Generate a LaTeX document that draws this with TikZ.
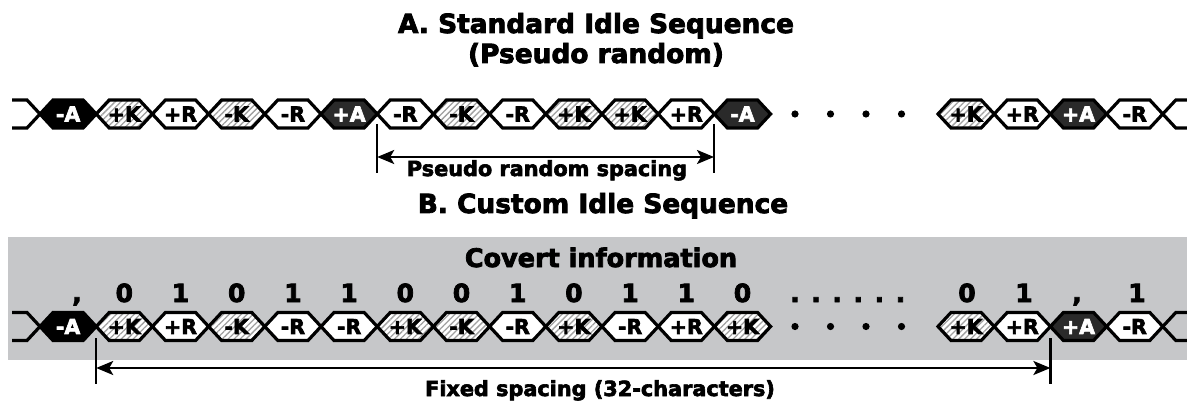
\documentclass[tikz,border=0pt]{standalone}
\usepackage{fontspec}
\setmainfont{DejaVu Sans}
\newfontfamily\hfont{DejaVu Sans Bold}[FakeBold=3]
\usetikzlibrary{patterns.meta,arrows.meta}
\definecolor{boxgray}{HTML}{C6C7C9}
\definecolor{darkA}{HTML}{2A2A2A}
\definecolor{hatch}{HTML}{A0A0A0}
\begin{document}
\begin{tikzpicture}[x=1pt,y=-1pt,
  hexline/.style={line width=3.2pt, line join=miter, draw=black},
  hexa0/.style={hexline, fill=black},
  hexa/.style={hexline, fill=darkA},
  hexk/.style={hexline, preaction={fill=white}, pattern={Lines[angle=45,distance=4.2pt,line width=1.3pt]}, pattern color=hatch},
  hexr/.style={hexline, fill=white},
  hl/.style={font=\fontsize{20.5}{21}\selectfont\hfont, inner sep=0pt},
  laba0/.style={hl, text=white},
  laba/.style={hl, text=white},
  labk/.style={hl, text=black},
  labr/.style={hl, text=black},
  title/.style={font=\fontsize{26.4}{28}\selectfont\hfont, inner sep=0pt, anchor=base},
  subt/.style={font=\fontsize{25.5}{27}\selectfont\hfont, inner sep=0pt, anchor=base},
  dig/.style={font=\fontsize{25}{27}\selectfont\hfont, inner sep=0pt, anchor=base},
  lbl/.style={font=\fontsize{20.8}{22}\selectfont\hfont, inner sep=0pt, anchor=base},
  tick/.style={line width=2.5pt},
  dim/.style={line width=2.5pt, {Stealth[length=17pt,width=14pt,inset=4pt]}-{Stealth[length=17pt,width=14pt,inset=4pt]}},
  bigdot/.style={fill=black}
]
\useasboundingbox (0,0) rectangle (1187,401);
\fill[boxgray] (8,237) rectangle (1187,360);

% titles
\node[title] (tA1) at (596,33) {A. Standard Idle Sequence};
\node[title] (tA2) at (596,63) {(Pseudo random)};
\node[title] (tB) at (603,213) {B. Custom Idle Sequence};
\node[subt] (cov) at (601,267) {Covert information};

% ---------- Row A ----------
\draw[hexline] (12,100) -- (27,100) -- (40,114);
\draw[hexline] (12,128) -- (27,128) -- (40,114);
\foreach \lab/\typ [count=\i from 0] in {-A/a0,+K/k,+R/r,-K/k,-R/r,+A/a,-R/r,-K/k,-R/r,+K/k,+K/k,+R/r,-A/a}{
  \pgfmathsetmacro{\xl}{40+56.2*\i}
  \draw[hex\typ] (\xl,114) -- ++(13,-14) -- ++(30.2,0) -- ++(13,14) -- ++(-13,14) -- ++(-30.2,0) -- cycle;
  \node[lab\typ] (A\i) at (\xl+28.1,114) {\lab};
}
\foreach \x [count=\i] in {795,830.5,866,901.5} \fill[bigdot] (\x,114) circle (3.6);
\foreach \lab/\typ [count=\i from 0] in {+K/k,+R/r,+A/a,-R/r}{
  \pgfmathsetmacro{\xl}{938+56.2*\i}
  \draw[hex\typ] (\xl,114) -- ++(13,-14) -- ++(30.2,0) -- ++(13,14) -- ++(-13,14) -- ++(-30.2,0) -- cycle;
  \node[lab\typ] (AR\i) at (\xl+28.1,114) {\lab};
}
\draw[hexline] (1162.8,114) -- (1175.8,100) -- (1190,100);
\draw[hexline] (1162.8,114) -- (1175.8,128) -- (1190,128);

\coordinate (pa1t) at (377.2,124);
\coordinate (pa1b) at (377.2,173);
\coordinate (pa2t) at (714.0,124);
\coordinate (pa2b) at (714.0,173);
\coordinate (pa1m) at (377.2,157);
\coordinate (pa2m) at (714.0,157);
\draw[tick] (pa1t) -- (pa1b);
\draw[tick] (pa2t) -- (pa2b);
\draw[dim] (pa1m) -- (pa2m);
\node[lbl] (prs) at (547,176) {Pseudo random spacing};

% ---------- Row B ----------
\foreach \d [count=\i] in {0,1,0,1,1,0,0,1,0,1,1,0}
  \node[dig] (d\i) at ({68.1+56.2*\i},302) {\d};
\node[dig] (c0) at (77,302) {,};
\node[dig, anchor=base west] (dots) at (790,302) {. . . . . .};
\node[dig] (e1) at (967,302) {0};
\node[dig] (e2) at (1024,302) {1};
\node[dig] (e3) at (1077,302) {,};
\node[dig] (e4) at (1137,302) {1};

\draw[hexline] (12,312.5) -- (27,312.5) -- (40,326.5);
\draw[hexline] (12,340.5) -- (27,340.5) -- (40,326.5);
\foreach \lab/\typ [count=\i from 0] in {-A/a0,+K/k,+R/r,-K/k,-R/r,-R/r,+K/k,-K/k,-R/r,+K/k,-R/r,+R/r,+K/k}{
  \pgfmathsetmacro{\xl}{40+56.2*\i}
  \draw[hex\typ] (\xl,326.5) -- ++(13,-14) -- ++(30.2,0) -- ++(13,14) -- ++(-13,14) -- ++(-30.2,0) -- cycle;
  \node[lab\typ] (B\i) at (\xl+28.1,326.5) {\lab};
}
\foreach \x [count=\i] in {795,830.5,866,901.5} \fill[bigdot] (\x,326.5) circle (3.6);
\foreach \lab/\typ [count=\i from 0] in {+K/k,+R/r,+A/a,-R/r}{
  \pgfmathsetmacro{\xl}{938+56.2*\i}
  \draw[hex\typ] (\xl,326.5) -- ++(13,-14) -- ++(30.2,0) -- ++(13,14) -- ++(-13,14) -- ++(-30.2,0) -- cycle;
  \node[lab\typ] (BR\i) at (\xl+28.1,326.5) {\lab};
}
\draw[hexline] (1162.8,326.5) -- (1175.8,312.5) -- (1190,312.5);
\draw[hexline] (1162.8,326.5) -- (1175.8,340.5) -- (1190,340.5);

\coordinate (pb1t) at (96.2,338);
\coordinate (pb1b) at (96.2,384);
\coordinate (pb2t) at (1050.4,338);
\coordinate (pb2b) at (1050.4,384);
\coordinate (pb1m) at (96.2,368);
\coordinate (pb2m) at (1050.4,368);
\draw[tick] (pb1t) -- (pb1b);
\draw[tick] (pb2t) -- (pb2b);
\draw[dim] (pb1m) -- (pb2m);
\node[lbl] (fxs) at (600,396) {Fixed spacing (32-characters)};
\end{tikzpicture}
\end{document}
